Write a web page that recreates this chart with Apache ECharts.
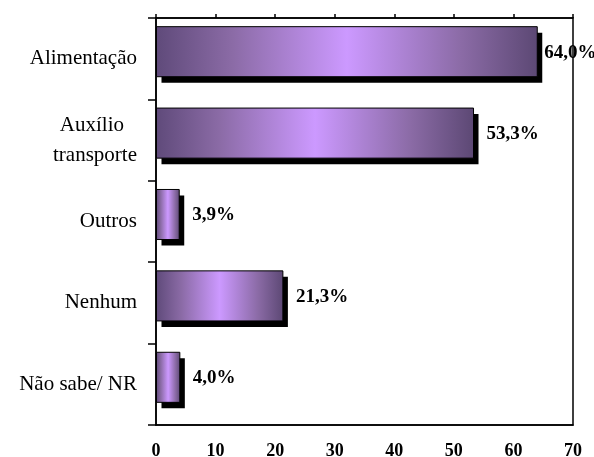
<!DOCTYPE html>
<html>
<head>
<meta charset="utf-8">
<script src="https://cdn.jsdelivr.net/npm/echarts@6/dist/echarts.min.js"></script>
<style>
  html, body { margin: 0; padding: 0; background: #fff; }
  #chart { width: 594px; height: 457px; }
</style>
</head>
<body>
<div id="chart"></div>
<script>
// Categories (top to bottom) and their shares in percent
var categories = ['Alimentação', 'Auxílio\ntransporte', 'Outros', 'Nenhum', 'Não sabe/ NR'];
var values = [64.0, 53.3, 3.9, 21.3, 4.0];
var axisTicks = [0, 10, 20, 30, 40, 50, 60, 70];

var SERIF = "'Liberation Serif', 'Times New Roman', serif";

function makeGradient() {
  return new echarts.graphic.LinearGradient(0, 0, 1, 0, [
    { offset: 0, color: '#5f4a7a' },
    { offset: 0.2, color: '#8b6ba6' },
    { offset: 0.5, color: '#cc99ff' },
    { offset: 0.8, color: '#8b6ba6' },
    { offset: 1, color: '#5c4874' }
  ]);
}

function pct(v) { return v.toFixed(1).replace('.', ',') + '%'; }

// Bar with a hard drop shadow and its value label, placed through the axis scales
function renderBar(params, api) {
  var idx = api.value(0);
  var val = api.value(1);
  var base = api.coord([0, idx]);
  var end = api.coord([val, idx]);
  var band = api.size([0, 1])[1];
  var h = band * 0.615;
  var cy = base[1] - band * 0.086;
  var x0 = base[0] + 0.5;
  var w = end[0] - x0;
  var y0 = cy - h / 2;
  var shadowDx = 5, shadowDy = 6;
  var labelGap = idx === 0 ? 7 : 13;
  return {
    type: 'group',
    children: [
      {
        type: 'rect',
        shape: { x: x0 + shadowDx, y: y0 + shadowDy, width: w, height: h },
        style: { fill: '#000' }
      },
      {
        type: 'rect',
        shape: { x: x0, y: y0, width: w, height: h },
        style: { fill: makeGradient(), stroke: '#000', lineWidth: 1 }
      },
      {
        type: 'text',
        x: end[0] + labelGap,
        y: cy + 1,
        style: {
          text: pct(val),
          fill: '#000',
          font: 'bold 19px ' + SERIF,
          verticalAlign: 'middle',
          align: 'left'
        }
      }
    ]
  };
}

var chart = echarts.init(document.getElementById('chart'), null, { renderer: 'canvas' });

var valueAxisBase = {
  type: 'value',
  min: axisTicks[0],
  max: axisTicks[axisTicks.length - 1],
  interval: axisTicks[1] - axisTicks[0],
  splitLine: { show: false },
  axisLine: { show: true, lineStyle: { color: '#000', width: 1.5 } }
};

chart.setOption({
  animation: false,
  backgroundColor: '#fff',
  grid: {
    left: 156, right: 21, top: 18, bottom: 32,
    containLabel: false,
    outerBoundsMode: 'none',
    show: true, borderColor: '#000', borderWidth: 1.5
  },
  xAxis: [
    Object.assign({}, valueAxisBase, {
      position: 'top',
      axisTick: { show: true, inside: false, length: 4, lineStyle: { color: '#000', width: 1.5 } },
      axisLabel: { show: false }
    }),
    Object.assign({}, valueAxisBase, {
      position: 'bottom',
      axisTick: { show: false },
      axisLabel: {
        show: true, margin: 17, color: '#000',
        fontFamily: SERIF, fontWeight: 'bold', fontSize: 18
      }
    })
  ],
  yAxis: {
    type: 'category',
    inverse: true,
    data: categories,
    axisLine: { show: true, lineStyle: { color: '#000', width: 1.5 } },
    axisTick: { show: true, alignWithLabel: false, length: 8, lineStyle: { color: '#000', width: 1.5 } },
    axisLabel: {
      margin: 19, color: '#000', fontFamily: SERIF, fontSize: 21, lineHeight: 30,
      formatter: function (v) {
        if (v.indexOf('\n') >= 0) {
          var parts = v.split('\n');
          return '{a|' + parts[0] + '}\n' + parts[1];
        }
        return v;
      },
      rich: {
        a: { fontFamily: SERIF, fontSize: 21, color: '#000', padding: [0, 13, 0, 0], lineHeight: 30 }
      }
    }
  },
  series: [
    {
      type: 'custom',
      xAxisIndex: 0,
      yAxisIndex: 0,
      renderItem: renderBar,
      encode: { x: 1, y: 0 },
      data: values.map(function (v, i) { return [i, v]; }),
      clip: false
    }
  ]
});
</script>
</body>
</html>
